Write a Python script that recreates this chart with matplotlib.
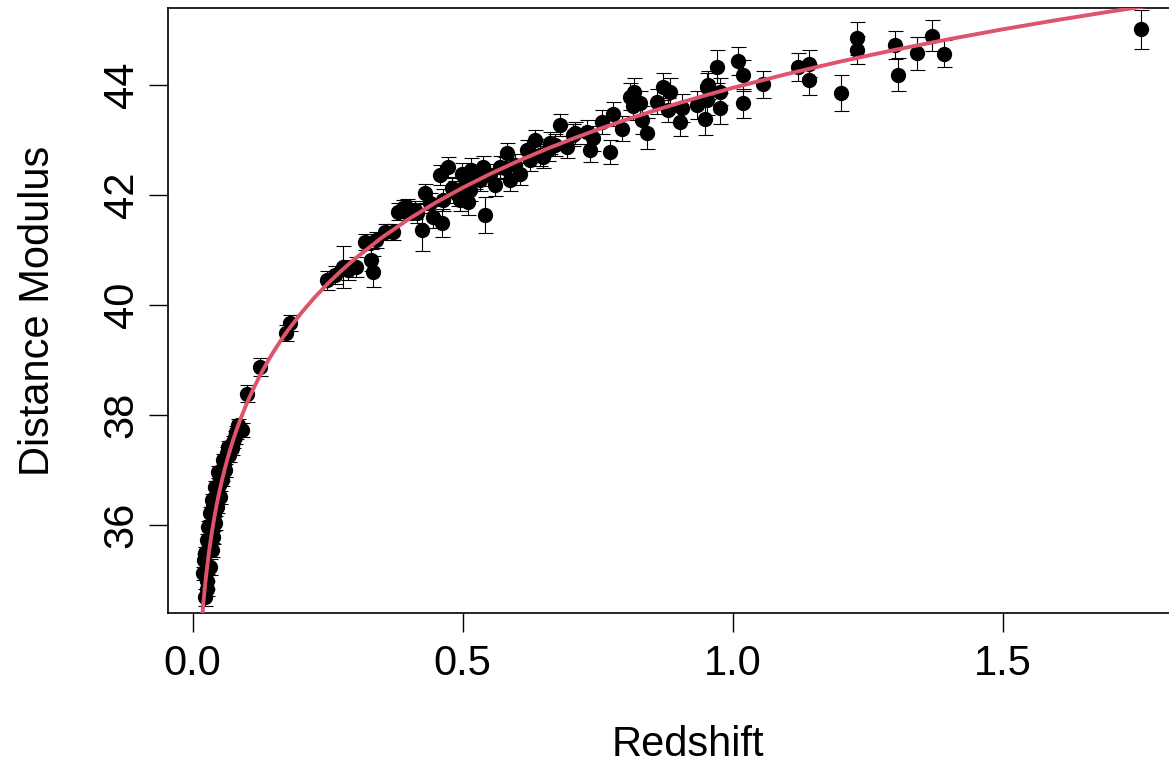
import matplotlib
matplotlib.use("Agg")
import matplotlib.pyplot as plt

plt.rcParams['font.family'] = ['Liberation Sans', 'DejaVu Sans']

# Supernova data (redshift, distance modulus, error)
redshift = [
    0.0196, 0.0209, 0.0228, 0.0228, 0.0259, 0.0259, 0.0268, 0.0289, 0.0302, 0.0320,
    0.0320, 0.0352, 0.0352, 0.0357, 0.0376, 0.0381, 0.0394, 0.0413, 0.0413, 0.0444,
    0.0450, 0.0474, 0.0487, 0.0505, 0.0537, 0.0542, 0.0566, 0.0579, 0.0598, 0.0629,
    0.0653, 0.0672, 0.0690, 0.0727, 0.0751, 0.0783, 0.0801, 0.0844, 0.0907,
    0.101, 0.1245, 0.1727, 0.180, 0.248, 0.263, 0.279, 0.288, 0.303, 0.319,
    0.331, 0.334, 0.340, 0.356, 0.371, 0.380, 0.390, 0.395, 0.396, 0.411,
    0.4145, 0.424, 0.430, 0.439, 0.445, 0.458, 0.461, 0.464, 0.473, 0.480,
    0.485, 0.491, 0.495, 0.498, 0.504, 0.510, 0.514, 0.516, 0.523, 0.532,
    0.538, 0.541, 0.551, 0.560, 0.569, 0.578, 0.581, 0.588, 0.597, 0.606,
    0.618, 0.624, 0.633, 0.643, 0.649, 0.657, 0.661, 0.670, 0.680, 0.692,
    0.704, 0.707, 0.729, 0.735, 0.741, 0.757, 0.772, 0.778, 0.794, 0.809,
    0.815, 0.817, 0.828, 0.831, 0.840, 0.859, 0.871, 0.880, 0.883, 0.902,
    0.905, 0.933, 0.948, 0.951, 0.951, 0.954, 0.970, 0.976, 0.976, 1.010,
    1.019, 1.019, 1.056, 1.121, 1.141, 1.141, 1.199, 1.230, 1.230, 1.300,
    1.306, 1.340, 1.369, 1.390, 1.755,
]
distance_modulus = [
    35.13, 35.36, 34.69, 35.49, 34.85, 35.73, 34.98, 35.96, 35.64, 35.24,
    36.22, 35.55, 36.45, 35.91, 36.36, 35.78, 36.18, 36.04, 36.69, 36.33,
    36.64, 36.96, 36.73, 36.51, 36.82, 36.91, 37.18, 37.09, 37.00, 37.31,
    37.42, 37.27, 37.42, 37.40, 37.51, 37.60, 37.69, 37.82, 37.73,
    38.39, 38.88, 39.49, 39.68, 40.45, 40.55, 40.70, 40.64, 40.70, 41.15,
    40.82, 40.61, 41.18, 41.33, 41.33, 41.70, 41.76, 41.70, 41.76, 41.73,
    41.67, 41.36, 42.03, 41.85, 41.61, 42.36, 41.49, 41.91, 42.51, 42.13,
    42.06, 42.00, 41.91, 42.39, 42.18, 41.88, 42.09, 42.45, 42.31, 42.27,
    42.51, 41.64, 42.36, 42.18, 42.51, 42.49, 42.76, 42.27, 42.55, 42.39,
    42.82, 42.64, 43.00, 42.73, 42.70, 42.82, 42.94, 42.91, 43.27, 42.88,
    43.09, 43.12, 43.15, 42.82, 43.03, 43.33, 42.79, 43.48, 43.21, 43.79,
    43.61, 43.87, 43.67, 43.36, 43.12, 43.70, 43.97, 43.55, 43.88, 43.33,
    43.58, 43.64, 43.39, 43.97, 43.73, 44.00, 44.33, 43.58, 43.88, 44.44,
    44.18, 43.67, 44.01, 44.33, 44.39, 44.10, 43.86, 44.85, 44.64, 44.73,
    44.19, 44.58, 44.90, 44.57, 45.01,
]
mu_error = [
    0.12, 0.12, 0.15, 0.12, 0.13, 0.12, 0.13, 0.12, 0.12, 0.14,
    0.12, 0.12, 0.11, 0.12, 0.11, 0.12, 0.11, 0.12, 0.11, 0.11,
    0.11, 0.11, 0.11, 0.12, 0.11, 0.11, 0.11, 0.11, 0.12, 0.11,
    0.11, 0.12, 0.11, 0.12, 0.11, 0.12, 0.12, 0.12, 0.13,
    0.15, 0.16, 0.15, 0.15, 0.17, 0.16, 0.38, 0.18, 0.18, 0.15,
    0.20, 0.28, 0.15, 0.15, 0.15, 0.15, 0.15, 0.15, 0.16, 0.17,
    0.17, 0.37, 0.18, 0.18, 0.20, 0.18, 0.25, 0.20, 0.18, 0.18,
    0.20, 0.20, 0.20, 0.20, 0.20, 0.25, 0.20, 0.22, 0.20, 0.20,
    0.20, 0.32, 0.20, 0.20, 0.20, 0.20, 0.18, 0.20, 0.20, 0.20,
    0.18, 0.20, 0.18, 0.20, 0.20, 0.20, 0.20, 0.20, 0.20, 0.20,
    0.20, 0.20, 0.22, 0.22, 0.22, 0.22, 0.22, 0.22, 0.22, 0.25,
    0.25, 0.25, 0.22, 0.25, 0.28, 0.22, 0.25, 0.22, 0.25, 0.25,
    0.25, 0.25, 0.30, 0.25, 0.28, 0.25, 0.30, 0.28, 0.25, 0.25,
    0.28, 0.26, 0.25, 0.25, 0.25, 0.28, 0.33, 0.30, 0.25, 0.25,
    0.30, 0.30, 0.28, 0.25, 0.35,
]

# Fitted model curve
model_z = [0.015, 0.0175, 0.020, 0.0225, 0.025, 0.030, 0.035, 0.040, 0.045, 0.050,
           0.055, 0.060, 0.065, 0.070, 0.075, 0.080, 0.085, 0.090, 0.100, 0.110,
           0.125, 0.140, 0.150, 0.165, 0.175, 0.200, 0.225, 0.250, 0.275, 0.300,
           0.350, 0.400, 0.450, 0.500, 0.550, 0.600, 0.650, 0.700, 0.750, 0.800,
           0.850, 0.900, 0.950, 1.000, 1.100, 1.200, 1.300, 1.400, 1.500, 1.600,
           1.700, 1.800]
model_mu = [33.963, 34.302, 34.596, 34.856, 35.089, 35.492, 35.835, 36.132, 36.396, 36.632,
            36.847, 37.043, 37.224, 37.393, 37.550, 37.697, 37.836, 37.967, 38.210, 38.430,
            38.729, 38.995, 39.158, 39.385, 39.525, 39.846, 40.132, 40.390, 40.624, 40.840,
            41.227, 41.564, 41.865, 42.135, 42.382, 42.609, 42.818, 43.012, 43.193, 43.363,
            43.522, 43.673, 43.815, 43.950, 44.201, 44.430, 44.640, 44.834, 45.014, 45.182,
            45.339, 45.486]

x_ticks = [0.0, 0.5, 1.0, 1.5]
x_ticklabels = ["0.0", "0.5", "1.0", "1.5"]
y_ticks = [36, 38, 40, 42, 44]
y_ticklabels = ["36", "38", "40", "42", "44"]

W, H = 1169, 766
fig = plt.figure(figsize=(W / 100, H / 100), dpi=100)
left_px, right_px, top_px, bottom_px = 168.3, 1208.0, 8.0, 613.3
ax = fig.add_axes([left_px / W, 1 - bottom_px / H,
                   (right_px - left_px) / W, (bottom_px - top_px) / H])

ax.errorbar(redshift, distance_modulus, yerr=mu_error, fmt='o', color='black',
            ecolor='black', elinewidth=0.8, capsize=5.4, capthick=0.8,
            markersize=10, zorder=2)
ax.plot(model_z, model_mu, color='#DF536B', linewidth=2.8, zorder=3,
        solid_capstyle='butt', solid_joinstyle='round')

ax.set_xlim(-0.045, 1.879)
ax.set_ylim(34.4, 45.4)

ax.set_xticks(x_ticks)
ax.set_xticklabels(x_ticklabels)
ax.set_yticks(y_ticks)
ax.set_yticklabels(y_ticklabels, rotation=90, va='center')

ax.tick_params(axis='both', direction='out', length=14, width=1.0,
               labelsize=30, colors='black')
ax.tick_params(axis='x', pad=8)
ax.tick_params(axis='y', pad=5)

for side in ['left', 'top', 'bottom']:
    ax.spines[side].set_linewidth(1.2)
    ax.spines[side].set_color('black')
ax.spines['right'].set_visible(False)

ax.set_xlabel("Redshift", fontsize=30)
ax.set_ylabel("Distance Modulus", fontsize=30)
ax.xaxis.set_label_coords(0.5, (bottom_px - 745) / (bottom_px - top_px))
ax.xaxis.label.set_va('center')
ax.yaxis.set_label_coords((38 - left_px) / (right_px - left_px), 0.5)
ax.yaxis.label.set_va('center')
ax.yaxis.label.set_ha('center')

fig.savefig("out.png", dpi=100)
